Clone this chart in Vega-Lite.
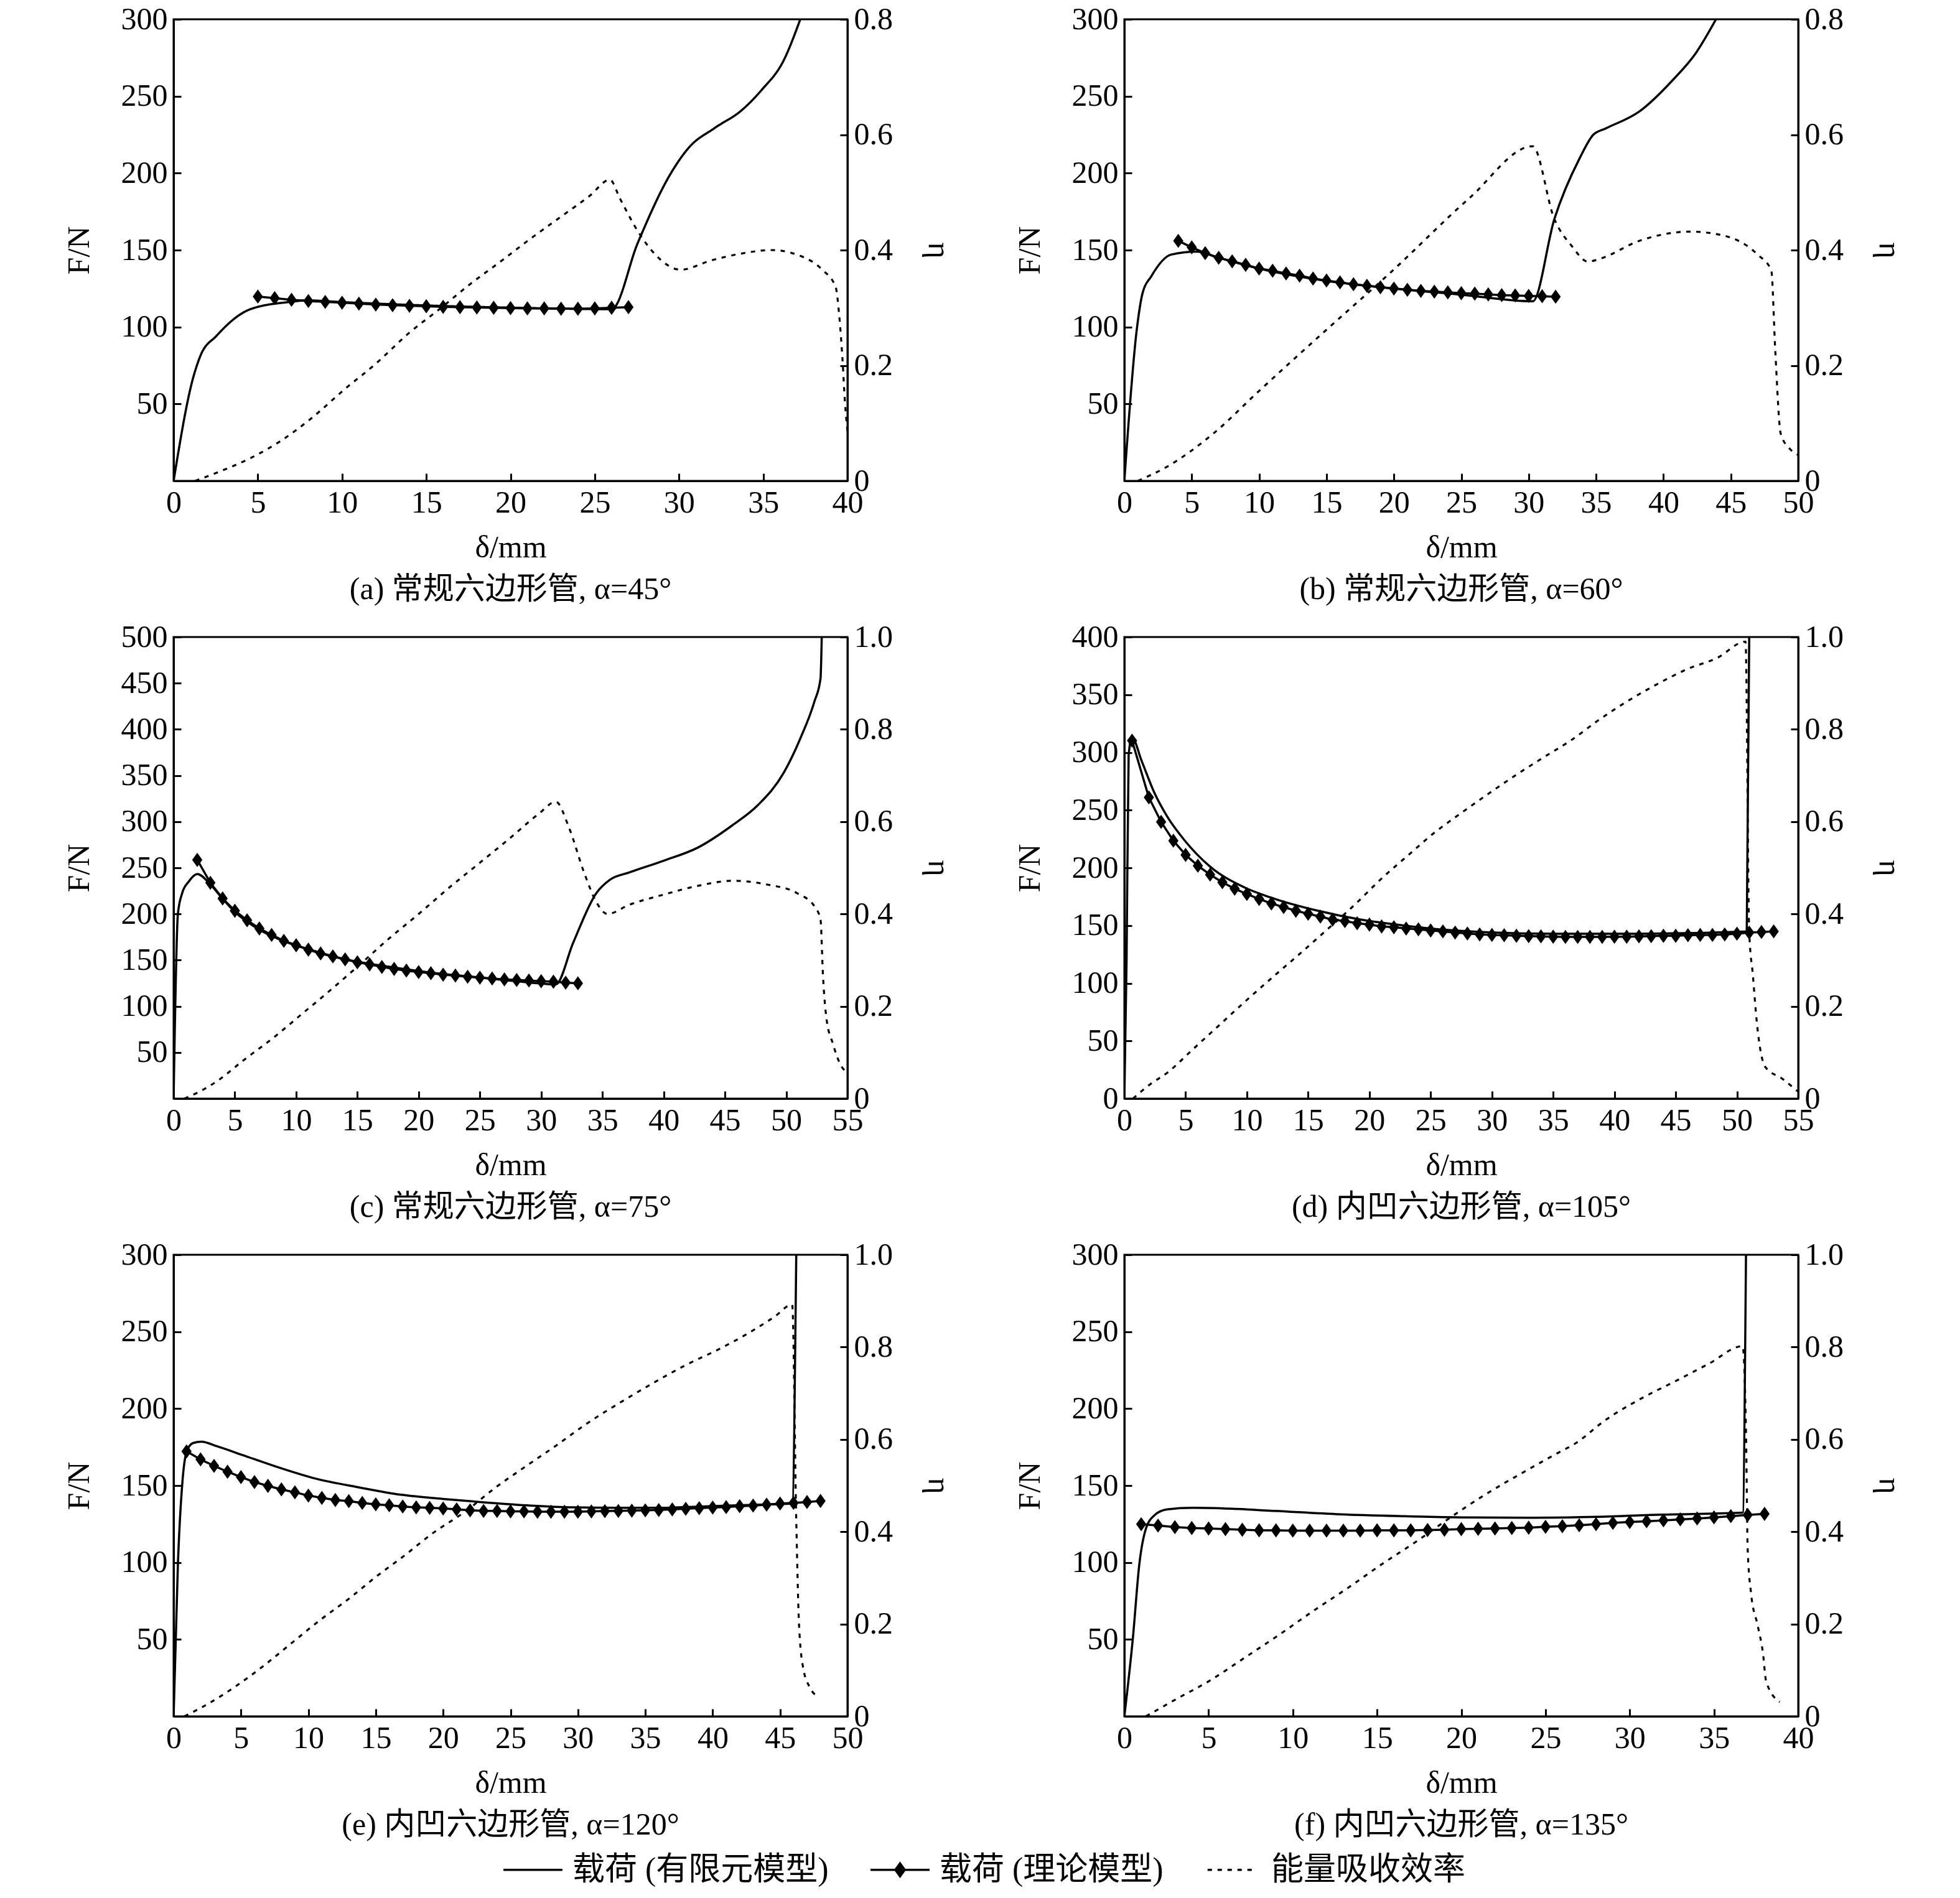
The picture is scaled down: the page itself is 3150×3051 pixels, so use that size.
{
"$schema": "https://vega.github.io/schema/vega-lite/v6.json",
"background": "white",
"padding": {"left": 100, "top": 4, "right": 10, "bottom": 10},
"data": {"values": [
{"p":"a","s":"fe","x":0,"y":0},{"p":"a","s":"fe","x":1.15,"y":66.6},{"p":"a","s":"fe","x":1.58,"y":81},{"p":"a","s":"fe","x":2.55,"y":94.3},{"p":"a","s":"fe","x":4.54,"y":111.5},{"p":"a","s":"fe","x":6.9,"y":116.3},{"p":"a","s":"fe","x":7.9,"y":117.3},{"p":"a","s":"fe","x":10,"y":116.2},{"p":"a","s":"fe","x":15,"y":114},{"p":"a","s":"fe","x":20,"y":112.6},{"p":"a","s":"fe","x":26,"y":111.6},{"p":"a","s":"fe","x":27.55,"y":154.6},{"p":"a","s":"fe","x":29.5,"y":199.6},{"p":"a","s":"fe","x":30.6,"y":216.8},{"p":"a","s":"fe","x":32.1,"y":229.2},{"p":"a","s":"fe","x":33.7,"y":240.7},{"p":"a","s":"fe","x":34.9,"y":254},{"p":"a","s":"fe","x":36.2,"y":273},{"p":"a","s":"fe","x":37.2,"y":300},
{"p":"a","s":"th","x":5,"y":119.8},{"p":"a","s":"th","x":6,"y":118.8},{"p":"a","s":"th","x":7,"y":117.7},{"p":"a","s":"th","x":8,"y":116.9},{"p":"a","s":"th","x":9,"y":116.3},{"p":"a","s":"th","x":10,"y":115.8},{"p":"a","s":"th","x":11,"y":115.2},{"p":"a","s":"th","x":12,"y":114.6},{"p":"a","s":"th","x":13,"y":114.2},{"p":"a","s":"th","x":14,"y":113.8},{"p":"a","s":"th","x":15,"y":113.5},{"p":"a","s":"th","x":16,"y":113.1},{"p":"a","s":"th","x":17,"y":112.9},{"p":"a","s":"th","x":18,"y":112.7},{"p":"a","s":"th","x":19,"y":112.5},{"p":"a","s":"th","x":20,"y":112.3},{"p":"a","s":"th","x":21,"y":112.1},{"p":"a","s":"th","x":22,"y":112.1},{"p":"a","s":"th","x":23,"y":111.9},{"p":"a","s":"th","x":24,"y":111.9},{"p":"a","s":"th","x":25,"y":112.1},{"p":"a","s":"th","x":26,"y":112.5},{"p":"a","s":"th","x":27,"y":112.9},
{"p":"a","s":"eta","x":1.28,"y":0},{"p":"a","s":"eta","x":2.55,"y":0.014},{"p":"a","s":"eta","x":4.6,"y":0.04},{"p":"a","s":"eta","x":6.4,"y":0.07},{"p":"a","s":"eta","x":8.2,"y":0.109},{"p":"a","s":"eta","x":10.2,"y":0.16},{"p":"a","s":"eta","x":12,"y":0.203},{"p":"a","s":"eta","x":14,"y":0.257},{"p":"a","s":"eta","x":15.8,"y":0.298},{"p":"a","s":"eta","x":17.6,"y":0.341},{"p":"a","s":"eta","x":19.4,"y":0.38},{"p":"a","s":"eta","x":21.2,"y":0.42},{"p":"a","s":"eta","x":23,"y":0.458},{"p":"a","s":"eta","x":24.7,"y":0.494},{"p":"a","s":"eta","x":25.9,"y":0.522},{"p":"a","s":"eta","x":26.5,"y":0.489},{"p":"a","s":"eta","x":27.55,"y":0.433},{"p":"a","s":"eta","x":28.6,"y":0.392},{"p":"a","s":"eta","x":30.1,"y":0.366},{"p":"a","s":"eta","x":31.9,"y":0.382},{"p":"a","s":"eta","x":33.7,"y":0.394},{"p":"a","s":"eta","x":35.5,"y":0.4},{"p":"a","s":"eta","x":37,"y":0.392},{"p":"a","s":"eta","x":38.5,"y":0.366},{"p":"a","s":"eta","x":39.3,"y":0.336},{"p":"a","s":"eta","x":39.5,"y":0.29},{"p":"a","s":"eta","x":39.7,"y":0.213},{"p":"a","s":"eta","x":39.85,"y":0.137},{"p":"a","s":"eta","x":40,"y":0.086},
{"p":"b","s":"fe","x":0,"y":0},{"p":"b","s":"fe","x":0.93,"y":99},{"p":"b","s":"fe","x":1.35,"y":122},{"p":"b","s":"fe","x":2,"y":133},{"p":"b","s":"fe","x":3.45,"y":147},{"p":"b","s":"fe","x":5.35,"y":149},{"p":"b","s":"fe","x":7,"y":145},{"p":"b","s":"fe","x":10,"y":138},{"p":"b","s":"fe","x":15,"y":130},{"p":"b","s":"fe","x":20,"y":125},{"p":"b","s":"fe","x":25,"y":121},{"p":"b","s":"fe","x":30.3,"y":116.7},{"p":"b","s":"fe","x":31.9,"y":170},{"p":"b","s":"fe","x":33.8,"y":210},{"p":"b","s":"fe","x":34.8,"y":225},{"p":"b","s":"fe","x":35.7,"y":229},{"p":"b","s":"fe","x":38.2,"y":240},{"p":"b","s":"fe","x":40.7,"y":260.6},{"p":"b","s":"fe","x":42.4,"y":278},{"p":"b","s":"fe","x":43.9,"y":300},
{"p":"b","s":"th","x":4,"y":156},{"p":"b","s":"th","x":5,"y":151.8},{"p":"b","s":"th","x":6,"y":148},{"p":"b","s":"th","x":7,"y":145},{"p":"b","s":"th","x":8,"y":142.7},{"p":"b","s":"th","x":9,"y":140.4},{"p":"b","s":"th","x":10,"y":138},{"p":"b","s":"th","x":11,"y":136.6},{"p":"b","s":"th","x":12,"y":134.8},{"p":"b","s":"th","x":13,"y":133.4},{"p":"b","s":"th","x":14,"y":131.5},{"p":"b","s":"th","x":15,"y":130.2},{"p":"b","s":"th","x":16,"y":129},{"p":"b","s":"th","x":17,"y":127.8},{"p":"b","s":"th","x":18,"y":126.8},{"p":"b","s":"th","x":19,"y":125.8},{"p":"b","s":"th","x":20,"y":125},{"p":"b","s":"th","x":21,"y":124.2},{"p":"b","s":"th","x":22,"y":123.5},{"p":"b","s":"th","x":23,"y":123},{"p":"b","s":"th","x":24,"y":122.5},{"p":"b","s":"th","x":25,"y":122},{"p":"b","s":"th","x":26,"y":121.7},{"p":"b","s":"th","x":27,"y":121.2},{"p":"b","s":"th","x":28,"y":120.7},{"p":"b","s":"th","x":29,"y":120.5},{"p":"b","s":"th","x":30,"y":120.2},{"p":"b","s":"th","x":31,"y":120},{"p":"b","s":"th","x":32,"y":119.7},
{"p":"b","s":"eta","x":1,"y":0},{"p":"b","s":"eta","x":3.2,"y":0.025},{"p":"b","s":"eta","x":6.6,"y":0.082},{"p":"b","s":"eta","x":10,"y":0.156},{"p":"b","s":"eta","x":15,"y":0.262},{"p":"b","s":"eta","x":19.7,"y":0.36},{"p":"b","s":"eta","x":25.6,"y":0.49},{"p":"b","s":"eta","x":30.3,"y":0.58},{"p":"b","s":"eta","x":31.9,"y":0.454},{"p":"b","s":"eta","x":33.2,"y":0.407},{"p":"b","s":"eta","x":34.4,"y":0.38},{"p":"b","s":"eta","x":35.3,"y":0.385},{"p":"b","s":"eta","x":38.2,"y":0.416},{"p":"b","s":"eta","x":42,"y":0.432},{"p":"b","s":"eta","x":44.5,"y":0.425},{"p":"b","s":"eta","x":47,"y":0.392},{"p":"b","s":"eta","x":48,"y":0.365},{"p":"b","s":"eta","x":48.3,"y":0.224},{"p":"b","s":"eta","x":48.7,"y":0.082},{"p":"b","s":"eta","x":49.4,"y":0.055},{"p":"b","s":"eta","x":50,"y":0.045},
{"p":"c","s":"fe","x":0,"y":0},{"p":"c","s":"fe","x":0.35,"y":200},{"p":"c","s":"fe","x":0.7,"y":222.6},{"p":"c","s":"fe","x":1.23,"y":235},{"p":"c","s":"fe","x":1.93,"y":243.3},{"p":"c","s":"fe","x":3,"y":232},{"p":"c","s":"fe","x":4.03,"y":216},{"p":"c","s":"fe","x":4.9,"y":203.5},{"p":"c","s":"fe","x":7,"y":183},{"p":"c","s":"fe","x":9.1,"y":170},{"p":"c","s":"fe","x":11.6,"y":159.5},{"p":"c","s":"fe","x":14,"y":151},{"p":"c","s":"fe","x":17.5,"y":143},{"p":"c","s":"fe","x":21,"y":136.5},{"p":"c","s":"fe","x":24.6,"y":131.7},{"p":"c","s":"fe","x":28.1,"y":127},{"p":"c","s":"fe","x":31.2,"y":123.7},{"p":"c","s":"fe","x":32.6,"y":168.4},{"p":"c","s":"fe","x":34.5,"y":222.6},{"p":"c","s":"fe","x":35.6,"y":237},{"p":"c","s":"fe","x":37.2,"y":245},{"p":"c","s":"fe","x":40,"y":257.7},{"p":"c","s":"fe","x":42.8,"y":272},{"p":"c","s":"fe","x":45.6,"y":296},{"p":"c","s":"fe","x":47.7,"y":318},{"p":"c","s":"fe","x":49.8,"y":353},{"p":"c","s":"fe","x":51.2,"y":391.6},{"p":"c","s":"fe","x":52.3,"y":430},{"p":"c","s":"fe","x":52.8,"y":455},{"p":"c","s":"fe","x":52.9,"y":500},
{"p":"c","s":"th","x":1.93,"y":258.6},{"p":"c","s":"th","x":3,"y":233.8},{"p":"c","s":"th","x":4,"y":216.8},{"p":"c","s":"th","x":5,"y":203.5},{"p":"c","s":"th","x":6,"y":193.2},{"p":"c","s":"th","x":7,"y":184.3},{"p":"c","s":"th","x":8,"y":177.3},{"p":"c","s":"th","x":9,"y":170.9},{"p":"c","s":"th","x":10,"y":166.1},{"p":"c","s":"th","x":11,"y":161.4},{"p":"c","s":"th","x":12,"y":157.2},{"p":"c","s":"th","x":13,"y":154},{"p":"c","s":"th","x":14,"y":150.8},{"p":"c","s":"th","x":15,"y":147.7},{"p":"c","s":"th","x":16,"y":145.4},{"p":"c","s":"th","x":17,"y":142.6},{"p":"c","s":"th","x":18,"y":140.5},{"p":"c","s":"th","x":19,"y":138.7},{"p":"c","s":"th","x":20,"y":137.1},{"p":"c","s":"th","x":21,"y":135.8},{"p":"c","s":"th","x":22,"y":134.2},{"p":"c","s":"th","x":23,"y":133.3},{"p":"c","s":"th","x":24,"y":132},{"p":"c","s":"th","x":25,"y":131},{"p":"c","s":"th","x":26,"y":130.1},{"p":"c","s":"th","x":27,"y":129.1},{"p":"c","s":"th","x":28,"y":128.5},{"p":"c","s":"th","x":29,"y":127.9},{"p":"c","s":"th","x":30,"y":127.2},{"p":"c","s":"th","x":31,"y":126.7},{"p":"c","s":"th","x":32,"y":125.6},{"p":"c","s":"th","x":33,"y":124.9},
{"p":"c","s":"eta","x":0.88,"y":0},{"p":"c","s":"eta","x":2.1,"y":0.015},{"p":"c","s":"eta","x":3.5,"y":0.037},{"p":"c","s":"eta","x":5.8,"y":0.085},{"p":"c","s":"eta","x":8.2,"y":0.133},{"p":"c","s":"eta","x":10.5,"y":0.184},{"p":"c","s":"eta","x":12.8,"y":0.235},{"p":"c","s":"eta","x":15.1,"y":0.288},{"p":"c","s":"eta","x":17.5,"y":0.345},{"p":"c","s":"eta","x":20,"y":0.4},{"p":"c","s":"eta","x":22.4,"y":0.455},{"p":"c","s":"eta","x":24.9,"y":0.509},{"p":"c","s":"eta","x":27.4,"y":0.563},{"p":"c","s":"eta","x":29.8,"y":0.617},{"p":"c","s":"eta","x":31.2,"y":0.643},{"p":"c","s":"eta","x":32.3,"y":0.585},{"p":"c","s":"eta","x":33.5,"y":0.49},{"p":"c","s":"eta","x":34.5,"y":0.426},{"p":"c","s":"eta","x":35.4,"y":0.4},{"p":"c","s":"eta","x":37.2,"y":0.42},{"p":"c","s":"eta","x":40,"y":0.442},{"p":"c","s":"eta","x":42.8,"y":0.461},{"p":"c","s":"eta","x":45.6,"y":0.472},{"p":"c","s":"eta","x":48.4,"y":0.464},{"p":"c","s":"eta","x":50.9,"y":0.445},{"p":"c","s":"eta","x":52.4,"y":0.413},{"p":"c","s":"eta","x":52.8,"y":0.388},{"p":"c","s":"eta","x":53,"y":0.267},{"p":"c","s":"eta","x":53.3,"y":0.171},{"p":"c","s":"eta","x":53.8,"y":0.12},{"p":"c","s":"eta","x":54.4,"y":0.075},{"p":"c","s":"eta","x":55,"y":0.056},
{"p":"d","s":"fe","x":0,"y":0},{"p":"d","s":"fe","x":0.18,"y":119},{"p":"d","s":"fe","x":0.35,"y":298},{"p":"d","s":"fe","x":0.63,"y":313},{"p":"d","s":"fe","x":1.4,"y":292.9},{"p":"d","s":"fe","x":2.46,"y":264.8},{"p":"d","s":"fe","x":3.5,"y":244.4},{"p":"d","s":"fe","x":4.9,"y":224},{"p":"d","s":"fe","x":7,"y":201},{"p":"d","s":"fe","x":9.8,"y":183},{"p":"d","s":"fe","x":12.3,"y":173},{"p":"d","s":"fe","x":15.8,"y":162.8},{"p":"d","s":"fe","x":19.3,"y":155.1},{"p":"d","s":"fe","x":22.8,"y":150},{"p":"d","s":"fe","x":26.3,"y":146.2},{"p":"d","s":"fe","x":29.8,"y":144.1},{"p":"d","s":"fe","x":35.1,"y":142.9},{"p":"d","s":"fe","x":42.1,"y":142.9},{"p":"d","s":"fe","x":50.8,"y":144.9},{"p":"d","s":"fe","x":51,"y":400},
{"p":"d","s":"th","x":0.63,"y":310.2},{"p":"d","s":"th","x":2,"y":261},{"p":"d","s":"th","x":3,"y":239.8},{"p":"d","s":"th","x":4,"y":223.5},{"p":"d","s":"th","x":5,"y":211.2},{"p":"d","s":"th","x":6,"y":201.8},{"p":"d","s":"th","x":7,"y":194.1},{"p":"d","s":"th","x":8,"y":187.5},{"p":"d","s":"th","x":9,"y":181.9},{"p":"d","s":"th","x":10,"y":177.3},{"p":"d","s":"th","x":11,"y":173},{"p":"d","s":"th","x":12,"y":169.1},{"p":"d","s":"th","x":13,"y":166},{"p":"d","s":"th","x":14,"y":162.8},{"p":"d","s":"th","x":15,"y":160.2},{"p":"d","s":"th","x":16,"y":157.7},{"p":"d","s":"th","x":17,"y":155.1},{"p":"d","s":"th","x":18,"y":153.8},{"p":"d","s":"th","x":19,"y":152},{"p":"d","s":"th","x":20,"y":150.8},{"p":"d","s":"th","x":21,"y":149.2},{"p":"d","s":"th","x":22,"y":148.5},{"p":"d","s":"th","x":23,"y":147.4},{"p":"d","s":"th","x":24,"y":146.7},{"p":"d","s":"th","x":25,"y":145.7},{"p":"d","s":"th","x":26,"y":144.9},{"p":"d","s":"th","x":27,"y":143.9},{"p":"d","s":"th","x":28,"y":143.1},{"p":"d","s":"th","x":29,"y":142.3},{"p":"d","s":"th","x":30,"y":141.8},{"p":"d","s":"th","x":31,"y":141.6},{"p":"d","s":"th","x":32,"y":141.1},{"p":"d","s":"th","x":33,"y":140.8},{"p":"d","s":"th","x":34,"y":140.6},{"p":"d","s":"th","x":35,"y":140.3},{"p":"d","s":"th","x":36,"y":140.1},{"p":"d","s":"th","x":37,"y":140.1},{"p":"d","s":"th","x":38,"y":140.1},{"p":"d","s":"th","x":39,"y":140.1},{"p":"d","s":"th","x":40,"y":140.3},{"p":"d","s":"th","x":41,"y":140.3},{"p":"d","s":"th","x":42,"y":140.6},{"p":"d","s":"th","x":43,"y":140.8},{"p":"d","s":"th","x":44,"y":141.1},{"p":"d","s":"th","x":45,"y":141.1},{"p":"d","s":"th","x":46,"y":141.6},{"p":"d","s":"th","x":47,"y":141.8},{"p":"d","s":"th","x":48,"y":141.8},{"p":"d","s":"th","x":49,"y":142.3},{"p":"d","s":"th","x":50,"y":142.9},{"p":"d","s":"th","x":51,"y":143.9},{"p":"d","s":"th","x":52,"y":144.4},{"p":"d","s":"th","x":53,"y":144.9},
{"p":"d","s":"eta","x":0.7,"y":0},{"p":"d","s":"eta","x":2.1,"y":0.031},{"p":"d","s":"eta","x":3.5,"y":0.056},{"p":"d","s":"eta","x":5.6,"y":0.107},{"p":"d","s":"eta","x":7.7,"y":0.158},{"p":"d","s":"eta","x":9.8,"y":0.209},{"p":"d","s":"eta","x":12.1,"y":0.263},{"p":"d","s":"eta","x":14.2,"y":0.311},{"p":"d","s":"eta","x":16.5,"y":0.365},{"p":"d","s":"eta","x":18.8,"y":0.42},{"p":"d","s":"eta","x":21,"y":0.477},{"p":"d","s":"eta","x":23.2,"y":0.528},{"p":"d","s":"eta","x":25.3,"y":0.576},{"p":"d","s":"eta","x":27.4,"y":0.617},{"p":"d","s":"eta","x":29.8,"y":0.662},{"p":"d","s":"eta","x":31.9,"y":0.7},{"p":"d","s":"eta","x":34.2,"y":0.739},{"p":"d","s":"eta","x":36.5,"y":0.777},{"p":"d","s":"eta","x":38.6,"y":0.818},{"p":"d","s":"eta","x":41,"y":0.86},{"p":"d","s":"eta","x":43.5,"y":0.898},{"p":"d","s":"eta","x":45.9,"y":0.93},{"p":"d","s":"eta","x":48.4,"y":0.955},{"p":"d","s":"eta","x":50.7,"y":0.99},{"p":"d","s":"eta","x":51,"y":0.362},{"p":"d","s":"eta","x":51.3,"y":0.267},{"p":"d","s":"eta","x":51.6,"y":0.171},{"p":"d","s":"eta","x":52.3,"y":0.069},{"p":"d","s":"eta","x":53.7,"y":0.043},{"p":"d","s":"eta","x":55,"y":0.015},
{"p":"e","s":"fe","x":0,"y":0},{"p":"e","s":"fe","x":0.32,"y":99},{"p":"e","s":"fe","x":0.64,"y":150.8},{"p":"e","s":"fe","x":0.96,"y":171.8},{"p":"e","s":"fe","x":1.43,"y":177.6},{"p":"e","s":"fe","x":2.07,"y":178.5},{"p":"e","s":"fe","x":3.19,"y":175.6},{"p":"e","s":"fe","x":5.1,"y":169.9},{"p":"e","s":"fe","x":7.65,"y":162.2},{"p":"e","s":"fe","x":10.5,"y":154.6},{"p":"e","s":"fe","x":13.7,"y":148.9},{"p":"e","s":"fe","x":16.9,"y":144},{"p":"e","s":"fe","x":20.1,"y":141.2},{"p":"e","s":"fe","x":23.3,"y":138.9},{"p":"e","s":"fe","x":26.5,"y":137},{"p":"e","s":"fe","x":29.7,"y":135.8},{"p":"e","s":"fe","x":32.8,"y":135.5},{"p":"e","s":"fe","x":36,"y":135.5},{"p":"e","s":"fe","x":39.2,"y":136.4},{"p":"e","s":"fe","x":42.7,"y":137.4},{"p":"e","s":"fe","x":45.9,"y":138.3},{"p":"e","s":"fe","x":46.2,"y":300},
{"p":"e","s":"th","x":0.96,"y":172.2},{"p":"e","s":"th","x":2,"y":167},{"p":"e","s":"th","x":3,"y":162.8},{"p":"e","s":"th","x":4,"y":159},{"p":"e","s":"th","x":5,"y":155.5},{"p":"e","s":"th","x":6,"y":152.3},{"p":"e","s":"th","x":7,"y":149.8},{"p":"e","s":"th","x":8,"y":147.5},{"p":"e","s":"th","x":9,"y":145.6},{"p":"e","s":"th","x":10,"y":143.5},{"p":"e","s":"th","x":11,"y":142},{"p":"e","s":"th","x":12,"y":140.6},{"p":"e","s":"th","x":13,"y":139.9},{"p":"e","s":"th","x":14,"y":138.7},{"p":"e","s":"th","x":15,"y":137.8},{"p":"e","s":"th","x":16,"y":137.2},{"p":"e","s":"th","x":17,"y":136.4},{"p":"e","s":"th","x":18,"y":135.8},{"p":"e","s":"th","x":19,"y":135.5},{"p":"e","s":"th","x":20,"y":135.1},{"p":"e","s":"th","x":21,"y":134.5},{"p":"e","s":"th","x":22,"y":133.9},{"p":"e","s":"th","x":23,"y":133.5},{"p":"e","s":"th","x":24,"y":133.5},{"p":"e","s":"th","x":25,"y":133.2},{"p":"e","s":"th","x":26,"y":133.2},{"p":"e","s":"th","x":27,"y":133},{"p":"e","s":"th","x":28,"y":133},{"p":"e","s":"th","x":29,"y":133},{"p":"e","s":"th","x":30,"y":133},{"p":"e","s":"th","x":31,"y":133.2},{"p":"e","s":"th","x":32,"y":133.4},{"p":"e","s":"th","x":33,"y":133.5},{"p":"e","s":"th","x":34,"y":133.7},{"p":"e","s":"th","x":35,"y":133.9},{"p":"e","s":"th","x":36,"y":134.1},{"p":"e","s":"th","x":37,"y":134.5},{"p":"e","s":"th","x":38,"y":134.9},{"p":"e","s":"th","x":39,"y":135.3},{"p":"e","s":"th","x":40,"y":135.7},{"p":"e","s":"th","x":41,"y":136},{"p":"e","s":"th","x":42,"y":136.6},{"p":"e","s":"th","x":43,"y":137},{"p":"e","s":"th","x":44,"y":137.6},{"p":"e","s":"th","x":45,"y":138.3},{"p":"e","s":"th","x":46,"y":138.7},{"p":"e","s":"th","x":47,"y":139.3},{"p":"e","s":"th","x":48,"y":140},
{"p":"e","s":"eta","x":0.8,"y":0},{"p":"e","s":"eta","x":2.55,"y":0.027},{"p":"e","s":"eta","x":4.8,"y":0.069},{"p":"e","s":"eta","x":6.7,"y":0.11},{"p":"e","s":"eta","x":8.6,"y":0.155},{"p":"e","s":"eta","x":10.8,"y":0.207},{"p":"e","s":"eta","x":13.1,"y":0.257},{"p":"e","s":"eta","x":15,"y":0.302},{"p":"e","s":"eta","x":17.2,"y":0.35},{"p":"e","s":"eta","x":19.1,"y":0.394},{"p":"e","s":"eta","x":21.7,"y":0.445},{"p":"e","s":"eta","x":23.9,"y":0.496},{"p":"e","s":"eta","x":26.1,"y":0.541},{"p":"e","s":"eta","x":28.4,"y":0.587},{"p":"e","s":"eta","x":30.6,"y":0.633},{"p":"e","s":"eta","x":33.2,"y":0.681},{"p":"e","s":"eta","x":35.4,"y":0.719},{"p":"e","s":"eta","x":38,"y":0.761},{"p":"e","s":"eta","x":40.5,"y":0.796},{"p":"e","s":"eta","x":42.7,"y":0.831},{"p":"e","s":"eta","x":44.6,"y":0.866},{"p":"e","s":"eta","x":45.9,"y":0.892},{"p":"e","s":"eta","x":46.2,"y":0.426},{"p":"e","s":"eta","x":46.4,"y":0.203},{"p":"e","s":"eta","x":46.7,"y":0.107},{"p":"e","s":"eta","x":47.2,"y":0.063},{"p":"e","s":"eta","x":47.8,"y":0.043},
{"p":"f","s":"fe","x":0,"y":0},{"p":"f","s":"fe","x":0.51,"y":51.3},{"p":"f","s":"fe","x":0.89,"y":99},{"p":"f","s":"fe","x":1.28,"y":122},{"p":"f","s":"fe","x":1.79,"y":130.7},{"p":"f","s":"fe","x":2.55,"y":134.5},{"p":"f","s":"fe","x":4.08,"y":135.5},{"p":"f","s":"fe","x":6.38,"y":134.9},{"p":"f","s":"fe","x":8.93,"y":133.5},{"p":"f","s":"fe","x":12.8,"y":131.3},{"p":"f","s":"fe","x":16.6,"y":130.1},{"p":"f","s":"fe","x":20.4,"y":129.3},{"p":"f","s":"fe","x":24.2,"y":129.1},{"p":"f","s":"fe","x":28.1,"y":129.7},{"p":"f","s":"fe","x":31.9,"y":131.1},{"p":"f","s":"fe","x":36.7,"y":132.4},{"p":"f","s":"fe","x":36.9,"y":300},
{"p":"f","s":"th","x":1,"y":124.9},{"p":"f","s":"th","x":2,"y":124},{"p":"f","s":"th","x":3,"y":123},{"p":"f","s":"th","x":4,"y":122.4},{"p":"f","s":"th","x":5,"y":122.1},{"p":"f","s":"th","x":6,"y":121.7},{"p":"f","s":"th","x":7,"y":121.3},{"p":"f","s":"th","x":8,"y":120.9},{"p":"f","s":"th","x":9,"y":120.9},{"p":"f","s":"th","x":10,"y":120.7},{"p":"f","s":"th","x":11,"y":120.7},{"p":"f","s":"th","x":12,"y":120.7},{"p":"f","s":"th","x":13,"y":120.7},{"p":"f","s":"th","x":14,"y":120.7},{"p":"f","s":"th","x":15,"y":120.9},{"p":"f","s":"th","x":16,"y":120.9},{"p":"f","s":"th","x":17,"y":120.9},{"p":"f","s":"th","x":18,"y":121.1},{"p":"f","s":"th","x":19,"y":121.3},{"p":"f","s":"th","x":20,"y":121.7},{"p":"f","s":"th","x":21,"y":121.9},{"p":"f","s":"th","x":22,"y":122.1},{"p":"f","s":"th","x":23,"y":122.4},{"p":"f","s":"th","x":24,"y":122.6},{"p":"f","s":"th","x":25,"y":123.2},{"p":"f","s":"th","x":26,"y":123.6},{"p":"f","s":"th","x":27,"y":124.2},{"p":"f","s":"th","x":28,"y":124.9},{"p":"f","s":"th","x":29,"y":125.7},{"p":"f","s":"th","x":30,"y":126.3},{"p":"f","s":"th","x":31,"y":126.8},{"p":"f","s":"th","x":32,"y":127.4},{"p":"f","s":"th","x":33,"y":128},{"p":"f","s":"th","x":34,"y":128.6},{"p":"f","s":"th","x":35,"y":129.3},{"p":"f","s":"th","x":36,"y":130.1},{"p":"f","s":"th","x":37,"y":130.9},{"p":"f","s":"th","x":38,"y":131.6},
{"p":"f","s":"eta","x":1.28,"y":0},{"p":"f","s":"eta","x":3.06,"y":0.037},{"p":"f","s":"eta","x":5.1,"y":0.078},{"p":"f","s":"eta","x":7.1,"y":0.126},{"p":"f","s":"eta","x":9.2,"y":0.177},{"p":"f","s":"eta","x":11.2,"y":0.228},{"p":"f","s":"eta","x":13.3,"y":0.279},{"p":"f","s":"eta","x":15.3,"y":0.33},{"p":"f","s":"eta","x":17.3,"y":0.378},{"p":"f","s":"eta","x":19.4,"y":0.432},{"p":"f","s":"eta","x":21.4,"y":0.48},{"p":"f","s":"eta","x":23.5,"y":0.525},{"p":"f","s":"eta","x":25.5,"y":0.566},{"p":"f","s":"eta","x":26.8,"y":0.592},{"p":"f","s":"eta","x":28.6,"y":0.643},{"p":"f","s":"eta","x":30.6,"y":0.687},{"p":"f","s":"eta","x":32.7,"y":0.726},{"p":"f","s":"eta","x":34.7,"y":0.764},{"p":"f","s":"eta","x":36.7,"y":0.802},{"p":"f","s":"eta","x":36.9,"y":0.617},{"p":"f","s":"eta","x":37,"y":0.362},{"p":"f","s":"eta","x":37.2,"y":0.267},{"p":"f","s":"eta","x":37.6,"y":0.196},{"p":"f","s":"eta","x":37.9,"y":0.139},{"p":"f","s":"eta","x":38.1,"y":0.075},{"p":"f","s":"eta","x":38.9,"y":0.031}
]},
"columns": 2,
"spacing": {"row": 22, "column": 94},
"concat": [
{"width":1083,"height":742,
 "title":{"text":"(a) 常规六边形管, α=45°","orient":"bottom","anchor":"middle","frame":"group","offset":18},
 "transform":[{"filter":"datum.p==='a'"}],
 "encoding":{"x":{"field":"x","type":"quantitative","title":"δ/mm","scale":{"domain":[0,40],"nice":false,"zero":false},"axis":{"values":[0,5,10,15,20,25,30,35,40]}}},
 "layer":[
  {"encoding":{"y":{"field":"y","type":"quantitative","title":"F/N","scale":{"domain":[0,300],"nice":false,"zero":false},"axis":{"values":[50,100,150,200,250,300]}}},
   "layer":[
    {"transform":[{"filter":"datum.s==='fe'"}],"mark":{"type":"line","color":"black","strokeWidth":3.5,"clip":true,"interpolate":"monotone"},
     "encoding":{"strokeDash":{"field":"s","type":"nominal","scale":{"domain":["fe","th","eta"],"range":[[1,0],[1,0],[7,9]]},
       "legend":{"title":null,"orient":"bottom","direction":"horizontal","offset":-5,"symbolType":"stroke","symbolSize":9000,"symbolStrokeWidth":3.5,"symbolStrokeColor":"black","symbolFillColor":"black","labelOffset":14,"columnPadding":60,"labelLimit":0,"labelFontSize":52,
         "labelExpr":"datum.value==='fe'?'载荷 (有限元模型)':datum.value==='th'?'载荷 (理论模型)':'能量吸收效率'",
         "encode":{"symbols":{"update":{"shape":{"signal":"datum.value==='th'?'M-1,0H1M0,-0.22L0.16,0L0,0.22L-0.16,0Z':'stroke'"},"size":{"signal":"datum.value==='eta'?6000:9000"},"fill":{"value":"black"},"stroke":{"value":"black"}}}}}}}},
    {"transform":[{"filter":"datum.s==='th'"}],"mark":{"type":"line","color":"black","strokeWidth":3.5}},
    {"transform":[{"filter":"datum.s==='th'"}],"mark":{"type":"point","shape":"M0,-1L0.72,0L0,1L-0.72,0Z","filled":true,"size":520,"color":"black","opacity":1}}
   ]},
  {"transform":[{"filter":"datum.s==='eta'"}],"mark":{"type":"line","color":"black","strokeWidth":3.2,"strokeDash":[7,9],"clip":true,"interpolate":"monotone"},
   "encoding":{"y":{"field":"y","type":"quantitative","title":"η","scale":{"domain":[0,0.8],"nice":false,"zero":false},"axis":{"orient":"right","values":[0,0.2,0.4,0.6,0.8],"labelExpr":"datum.value===0?'0':format(datum.value,'.1f')"}}}}
 ],
 "resolve":{"scale":{"y":"independent"}}},
{"width":1083,"height":742,
 "title":{"text":"(b) 常规六边形管, α=60°","orient":"bottom","anchor":"middle","frame":"group","offset":18},
 "transform":[{"filter":"datum.p==='b'"}],
 "encoding":{"x":{"field":"x","type":"quantitative","title":"δ/mm","scale":{"domain":[0,50],"nice":false,"zero":false},"axis":{"values":[0,5,10,15,20,25,30,35,40,45,50]}}},
 "layer":[
  {"encoding":{"y":{"field":"y","type":"quantitative","title":"F/N","scale":{"domain":[0,300],"nice":false,"zero":false},"axis":{"values":[50,100,150,200,250,300]}}},
   "layer":[
    {"transform":[{"filter":"datum.s==='fe'"}],"mark":{"type":"line","color":"black","strokeWidth":3.5,"clip":true,"interpolate":"monotone"}},
    {"transform":[{"filter":"datum.s==='th'"}],"mark":{"type":"line","color":"black","strokeWidth":3.5}},
    {"transform":[{"filter":"datum.s==='th'"}],"mark":{"type":"point","shape":"M0,-1L0.72,0L0,1L-0.72,0Z","filled":true,"size":520,"color":"black","opacity":1}}
   ]},
  {"transform":[{"filter":"datum.s==='eta'"}],"mark":{"type":"line","color":"black","strokeWidth":3.2,"strokeDash":[7,9],"clip":true,"interpolate":"monotone"},
   "encoding":{"y":{"field":"y","type":"quantitative","title":"η","scale":{"domain":[0,0.8],"nice":false,"zero":false},"axis":{"orient":"right","values":[0,0.2,0.4,0.6,0.8],"labelExpr":"datum.value===0?'0':format(datum.value,'.1f')"}}}}
 ],
 "resolve":{"scale":{"y":"independent"}}},
{"width":1083,"height":742,
 "title":{"text":"(c) 常规六边形管, α=75°","orient":"bottom","anchor":"middle","frame":"group","offset":18},
 "transform":[{"filter":"datum.p==='c'"}],
 "encoding":{"x":{"field":"x","type":"quantitative","title":"δ/mm","scale":{"domain":[0,55],"nice":false,"zero":false},"axis":{"values":[0,5,10,15,20,25,30,35,40,45,50,55]}}},
 "layer":[
  {"encoding":{"y":{"field":"y","type":"quantitative","title":"F/N","scale":{"domain":[0,500],"nice":false,"zero":false},"axis":{"values":[50,100,150,200,250,300,350,400,450,500]}}},
   "layer":[
    {"transform":[{"filter":"datum.s==='fe'"}],"mark":{"type":"line","color":"black","strokeWidth":3.5,"clip":true,"interpolate":"monotone"}},
    {"transform":[{"filter":"datum.s==='th'"}],"mark":{"type":"line","color":"black","strokeWidth":3.5}},
    {"transform":[{"filter":"datum.s==='th'"}],"mark":{"type":"point","shape":"M0,-1L0.72,0L0,1L-0.72,0Z","filled":true,"size":520,"color":"black","opacity":1}}
   ]},
  {"transform":[{"filter":"datum.s==='eta'"}],"mark":{"type":"line","color":"black","strokeWidth":3.2,"strokeDash":[7,9],"clip":true,"interpolate":"monotone"},
   "encoding":{"y":{"field":"y","type":"quantitative","title":"η","scale":{"domain":[0,1],"nice":false,"zero":false},"axis":{"orient":"right","values":[0,0.2,0.4,0.6,0.8,1],"labelExpr":"datum.value===0?'0':format(datum.value,'.1f')"}}}}
 ],
 "resolve":{"scale":{"y":"independent"}}},
{"width":1083,"height":742,
 "title":{"text":"(d) 内凹六边形管, α=105°","orient":"bottom","anchor":"middle","frame":"group","offset":18},
 "transform":[{"filter":"datum.p==='d'"}],
 "encoding":{"x":{"field":"x","type":"quantitative","title":"δ/mm","scale":{"domain":[0,55],"nice":false,"zero":false},"axis":{"values":[0,5,10,15,20,25,30,35,40,45,50,55]}}},
 "layer":[
  {"encoding":{"y":{"field":"y","type":"quantitative","title":"F/N","scale":{"domain":[0,400],"nice":false,"zero":false},"axis":{"values":[0,50,100,150,200,250,300,350,400]}}},
   "layer":[
    {"transform":[{"filter":"datum.s==='fe'"}],"mark":{"type":"line","color":"black","strokeWidth":3.5,"clip":true,"interpolate":"monotone"}},
    {"transform":[{"filter":"datum.s==='th'"}],"mark":{"type":"line","color":"black","strokeWidth":3.5}},
    {"transform":[{"filter":"datum.s==='th'"}],"mark":{"type":"point","shape":"M0,-1L0.72,0L0,1L-0.72,0Z","filled":true,"size":520,"color":"black","opacity":1}}
   ]},
  {"transform":[{"filter":"datum.s==='eta'"}],"mark":{"type":"line","color":"black","strokeWidth":3.2,"strokeDash":[7,9],"clip":true,"interpolate":"monotone"},
   "encoding":{"y":{"field":"y","type":"quantitative","title":"η","scale":{"domain":[0,1],"nice":false,"zero":false},"axis":{"orient":"right","values":[0,0.2,0.4,0.6,0.8,1],"labelExpr":"datum.value===0?'0':format(datum.value,'.1f')"}}}}
 ],
 "resolve":{"scale":{"y":"independent"}}},
{"width":1083,"height":742,
 "title":{"text":"(e) 内凹六边形管, α=120°","orient":"bottom","anchor":"middle","frame":"group","offset":18},
 "transform":[{"filter":"datum.p==='e'"}],
 "encoding":{"x":{"field":"x","type":"quantitative","title":"δ/mm","scale":{"domain":[0,50],"nice":false,"zero":false},"axis":{"values":[0,5,10,15,20,25,30,35,40,45,50]}}},
 "layer":[
  {"encoding":{"y":{"field":"y","type":"quantitative","title":"F/N","scale":{"domain":[0,300],"nice":false,"zero":false},"axis":{"values":[50,100,150,200,250,300]}}},
   "layer":[
    {"transform":[{"filter":"datum.s==='fe'"}],"mark":{"type":"line","color":"black","strokeWidth":3.5,"clip":true,"interpolate":"monotone"}},
    {"transform":[{"filter":"datum.s==='th'"}],"mark":{"type":"line","color":"black","strokeWidth":3.5}},
    {"transform":[{"filter":"datum.s==='th'"}],"mark":{"type":"point","shape":"M0,-1L0.72,0L0,1L-0.72,0Z","filled":true,"size":520,"color":"black","opacity":1}}
   ]},
  {"transform":[{"filter":"datum.s==='eta'"}],"mark":{"type":"line","color":"black","strokeWidth":3.2,"strokeDash":[7,9],"clip":true,"interpolate":"monotone"},
   "encoding":{"y":{"field":"y","type":"quantitative","title":"η","scale":{"domain":[0,1],"nice":false,"zero":false},"axis":{"orient":"right","values":[0,0.2,0.4,0.6,0.8,1],"labelExpr":"datum.value===0?'0':format(datum.value,'.1f')"}}}}
 ],
 "resolve":{"scale":{"y":"independent"}}},
{"width":1083,"height":742,
 "title":{"text":"(f) 内凹六边形管, α=135°","orient":"bottom","anchor":"middle","frame":"group","offset":18},
 "transform":[{"filter":"datum.p==='f'"}],
 "encoding":{"x":{"field":"x","type":"quantitative","title":"δ/mm","scale":{"domain":[0,40],"nice":false,"zero":false},"axis":{"values":[0,5,10,15,20,25,30,35,40]}}},
 "layer":[
  {"encoding":{"y":{"field":"y","type":"quantitative","title":"F/N","scale":{"domain":[0,300],"nice":false,"zero":false},"axis":{"values":[50,100,150,200,250,300]}}},
   "layer":[
    {"transform":[{"filter":"datum.s==='fe'"}],"mark":{"type":"line","color":"black","strokeWidth":3.5,"clip":true,"interpolate":"monotone"}},
    {"transform":[{"filter":"datum.s==='th'"}],"mark":{"type":"line","color":"black","strokeWidth":3.5}},
    {"transform":[{"filter":"datum.s==='th'"}],"mark":{"type":"point","shape":"M0,-1L0.72,0L0,1L-0.72,0Z","filled":true,"size":520,"color":"black","opacity":1}}
   ]},
  {"transform":[{"filter":"datum.s==='eta'"}],"mark":{"type":"line","color":"black","strokeWidth":3.2,"strokeDash":[7,9],"clip":true,"interpolate":"monotone"},
   "encoding":{"y":{"field":"y","type":"quantitative","title":"η","scale":{"domain":[0,1],"nice":false,"zero":false},"axis":{"orient":"right","values":[0,0.2,0.4,0.6,0.8,1],"labelExpr":"datum.value===0?'0':format(datum.value,'.1f')"}}}}
 ],
 "resolve":{"scale":{"y":"independent"}}}
],
"config": {
 "font": "Liberation Serif, Noto Sans CJK SC",
 "view": {"stroke": "black", "strokeWidth": 3},
 "axis": {"grid": false, "domainColor": "black", "domainWidth": 3, "tickColor": "black", "tickWidth": 3, "tickSize": -12, "labelFont": "Liberation Serif", "labelFontSize": 50, "labelColor": "black", "labelFlush": false, "labelOverlap": false, "labelPadding": 22, "titleFont": "Liberation Serif", "titleFontSize": 50, "titleFontWeight": "normal", "titleColor": "black"},
 "axisX": {"titlePadding": 22},
 "axisLeft": {"titlePadding": 42},
 "axisRight": {"titlePadding": 48},
 "title": {"font": "Liberation Serif, Noto Sans CJK SC", "fontSize": 50, "fontWeight": "normal", "color": "black"},
 "legend": {"layout": {"bottom": {"anchor": "middle"}}, "labelFont": "Liberation Serif, Noto Sans CJK SC", "labelFontSize": 52, "labelColor": "black"}
}
}
